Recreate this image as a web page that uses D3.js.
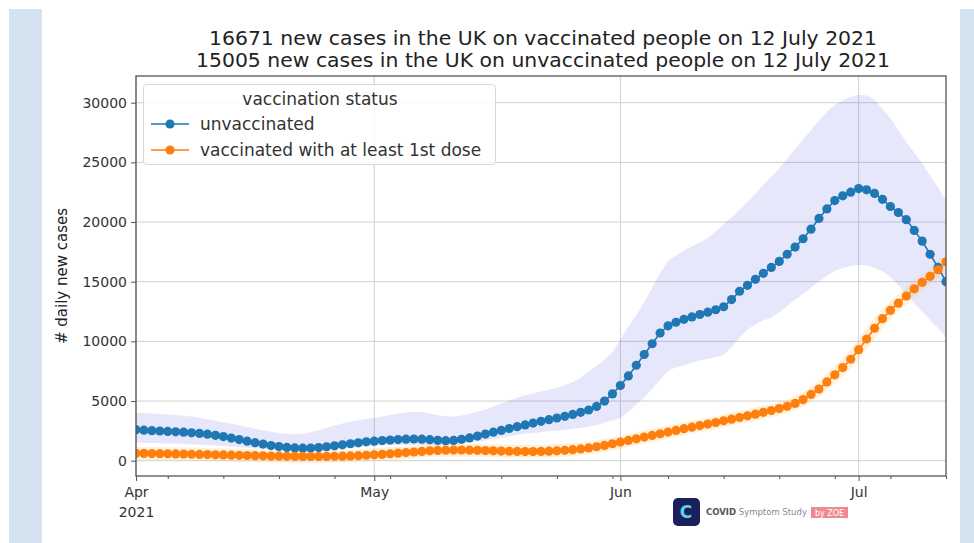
<!DOCTYPE html>
<html>
<head>
<meta charset="utf-8">
<script src="https://cdn.jsdelivr.net/npm/d3@7"></script>
<style>
  body { margin: 0; background: #fff; }
  svg { display: block; font-family: "DejaVu Sans", sans-serif; }
</style>
</head>
<body>
<div id="chart"></div>
<script>
// daily values, 1 April 2021 .. 12 July 2021
var startDay = new Date(2021, 3, 1);
var endDay = new Date(2021, 6, 12);

var unvaccinated = [
  2600, 2560, 2520, 2490, 2450, 2420, 2390, 2340, 2290, 2220,
  2130, 2020, 1900, 1770, 1640, 1510, 1390, 1270, 1180, 1110,
  1070, 1050, 1060, 1100, 1170, 1250, 1330, 1420, 1500, 1580,
  1640, 1690, 1730, 1770, 1800, 1820, 1800, 1760, 1710, 1680,
  1700, 1790, 1910, 2060, 2230, 2390, 2540, 2700, 2850, 3000,
  3150, 3300, 3440, 3580, 3720, 3880, 4050, 4250, 4550, 5000,
  5600, 6300, 7100, 8000, 8900, 9800, 10700, 11300, 11600, 11850,
  12050, 12250, 12450, 12650, 12900, 13500, 14200, 14700, 15200, 15700,
  16200, 16700, 17300, 17900, 18600, 19400, 20300, 21100, 21800, 22200,
  22500, 22800, 22700, 22400, 21900, 21300, 20800, 20200, 19300, 18400,
  17300, 16200, 15005
];

var vaccinated = [
  620, 610, 600, 590, 580, 570, 555, 540, 525, 510,
  495, 480, 465, 450, 435, 420, 405, 390, 380, 370,
  360, 355, 350, 350, 355, 365, 380, 400, 425, 455,
  490, 530, 580, 630, 680, 730, 780, 830, 860, 880,
  890, 890, 880, 870, 850, 830, 810, 790, 775, 765,
  765, 775, 795, 830, 870, 920, 990, 1070, 1170, 1280,
  1420, 1560, 1700, 1830, 1980, 2120, 2260, 2400, 2540, 2680,
  2810, 2940, 3070, 3200, 3340, 3480, 3620, 3760, 3900, 4050,
  4200, 4370, 4560, 4800, 5120, 5550, 6000, 6600, 7200, 7800,
  8500, 9300, 10200, 11100, 11900, 12600, 13200, 13800, 14400, 14950,
  15450, 16000, 16671
];

// confidence band for the unvaccinated series
var unvacUpper = [
  4000, 3980, 3950, 3910, 3870, 3820, 3770, 3700, 3600, 3480,
  3350, 3220, 3090, 2960, 2820, 2680, 2550, 2420, 2320, 2250,
  2220, 2260, 2380, 2550, 2750, 2950, 3120, 3270, 3400, 3500,
  3580, 3700, 3830, 3950, 4040, 4100, 4060, 3950, 3820, 3720,
  3700, 3780, 3920, 4100, 4300, 4550, 4780, 5020, 5250, 5480,
  5650, 5800, 5950, 6120, 6320, 6600, 6950, 7450, 7950, 8450,
  9100, 10200, 11200, 12200, 13300, 14500, 15700, 16700, 17200, 17600,
  17950, 18300, 18650, 19200, 19800, 20400, 21000, 21700, 22400, 23100,
  23800, 24500, 25300, 26100, 26900, 27700, 28500, 29200, 29800, 30200,
  30500, 30650, 30600, 30200, 29500, 28700, 27700, 26700, 25800, 24900,
  23900, 22900, 21800
];

var unvacLower = [
  1500, 1490, 1480, 1470, 1450, 1430, 1410, 1380, 1350, 1310,
  1270, 1230, 1180, 1130, 1080, 1030, 980, 940, 900, 870,
  860, 850, 860, 890, 930, 980, 1040, 1100, 1160, 1220,
  1260, 1290, 1310, 1320, 1320, 1310, 1290, 1270, 1260, 1270,
  1320, 1400, 1500, 1600, 1700, 1800, 1920, 2040, 2150, 2250,
  2320, 2390, 2460, 2530, 2600, 2680, 2770, 2870, 3000, 3180,
  3380, 3600, 4100, 4700, 5300, 6000, 6800, 7500, 7800, 8000,
  8200, 8400, 8550, 8700, 8900, 9500, 10300, 11000, 11400, 11750,
  12000, 12450, 12950, 13500, 14000, 14500, 15000, 15500, 15900, 16150,
  16300, 16400, 16350, 16150, 15850, 15400, 14700, 13900, 13200, 12500,
  11800, 11100, 10400
];

var yTicks = [0, 5000, 10000, 15000, 20000, 25000, 30000];
var monthTicks = [new Date(2021, 3, 1), new Date(2021, 4, 1), new Date(2021, 5, 1), new Date(2021, 6, 1)];
var monthLabels = ["Apr", "May", "Jun", "Jul"];

var titleLines = [
  "16671 new cases in the UK on vaccinated people on 12 July 2021",
  "15005 new cases in the UK on unvaccinated people on 12 July 2021"
];
var seriesNames = ["unvaccinated", "vaccinated with at least 1st dose"];
var seriesColors = ["#1f77b4", "#ff7f0e"];

var width = 974, height = 543;
var plotLeft = 136, plotRight = 946, plotTop = 76, plotBottom = 476;
var dotR = 4.6;

var days = d3.timeDay.range(startDay, d3.timeDay.offset(endDay, 1));

var svg = d3.select("#chart").append("svg")
  .attr("width", width)
  .attr("height", height);

// page frame (light blue strips of the screenshot)
svg.append("rect").attr("x", 9).attr("y", 9).attr("width", 33).attr("height", height - 9).attr("fill", "#d5e2ef");
svg.append("rect").attr("x", 960).attr("y", 9).attr("width", 14).attr("height", height - 9).attr("fill", "#d5e2ef");

var x = d3.scaleTime()
  .domain([startDay, endDay])
  .range([plotLeft, plotRight]);

var y = d3.scaleLinear()
  .domain([-1282, 32237])
  .range([plotBottom, plotTop]);

svg.append("clipPath").attr("id", "plotclip")
  .append("rect")
    .attr("x", plotLeft).attr("y", plotTop)
    .attr("width", plotRight - plotLeft).attr("height", plotBottom - plotTop);

// grid
var grid = svg.append("g").attr("stroke", "#d0d0d0").attr("stroke-width", 1);
grid.selectAll("line.h")
  .data(yTicks)
  .enter().append("line")
    .attr("class", "h")
    .attr("x1", plotLeft).attr("x2", plotRight)
    .attr("y1", function(d) { return y(d); })
    .attr("y2", function(d) { return y(d); });
grid.selectAll("line.v")
  .data(monthTicks)
  .enter().append("line")
    .attr("class", "v")
    .attr("y1", plotTop).attr("y2", plotBottom)
    .attr("x1", function(d) { return x(d); })
    .attr("x2", function(d) { return x(d); });

var plot = svg.append("g").attr("clip-path", "url(#plotclip)");

var band = d3.area()
  .x(function(d, i) { return x(days[i]); })
  .y0(function(d, i) { return y(unvacLower[i]); })
  .y1(function(d, i) { return y(unvacUpper[i]); })
  .curve(d3.curveMonotoneX);

plot.append("path")
  .datum(unvacUpper)
  .attr("d", band)
  .attr("fill", "#3a3ae0")
  .attr("fill-opacity", 0.12);

var line = d3.line()
  .x(function(d, i) { return x(days[i]); })
  .y(function(d) { return y(d); });

// faint halo around the vaccinated series
plot.append("path")
  .datum(vaccinated)
  .attr("d", line)
  .attr("fill", "none")
  .attr("stroke", "#ffc060")
  .attr("stroke-opacity", 0.22)
  .attr("stroke-width", 13)
  .attr("stroke-linejoin", "round");

[unvaccinated, vaccinated].forEach(function(series, k) {
  plot.append("path")
    .datum(series)
    .attr("d", line)
    .attr("fill", "none")
    .attr("stroke", seriesColors[k])
    .attr("stroke-width", 1.6);

  plot.append("g")
    .attr("fill", seriesColors[k])
    .selectAll("circle")
    .data(series)
    .enter().append("circle")
      .attr("cx", function(d, i) { return x(days[i]); })
      .attr("cy", function(d) { return y(d); })
      .attr("r", dotR);
});

// frame
svg.append("rect")
  .attr("x", plotLeft).attr("y", plotTop)
  .attr("width", plotRight - plotLeft).attr("height", plotBottom - plotTop)
  .attr("fill", "none")
  .attr("stroke", "#555")
  .attr("stroke-width", 1.3);

// y axis
var yAxis = d3.axisLeft(y)
  .tickValues(yTicks)
  .tickSize(5)
  .tickPadding(4)
  .tickFormat(d3.format("d"));

var gy = svg.append("g")
  .attr("transform", "translate(" + plotLeft + ",0)")
  .call(yAxis);
gy.select(".domain").remove();
gy.selectAll("line").attr("stroke", "#555");
gy.selectAll("text")
  .attr("font-size", 14)
  .attr("font-family", "DejaVu Sans")
  .attr("fill", "#333");

// x axis: weekly minor ticks on Mondays, month major ticks
var minor = d3.timeMonday.range(startDay, d3.timeDay.offset(endDay, 1));
var gxm = svg.append("g")
  .attr("transform", "translate(0," + plotBottom + ")")
  .call(d3.axisBottom(x).tickValues(minor).tickSize(3).tickFormat(""));
gxm.select(".domain").remove();
gxm.selectAll("line").attr("stroke", "#555");

var gx = svg.append("g")
  .attr("transform", "translate(0," + plotBottom + ")")
  .call(d3.axisBottom(x)
    .tickValues(monthTicks)
    .tickSize(5)
    .tickPadding(6)
    .tickFormat(function(d, i) { return monthLabels[i]; }));
gx.select(".domain").remove();
gx.selectAll("line").attr("stroke", "#555");
gx.selectAll("text")
  .attr("font-size", 14)
  .attr("font-family", "DejaVu Sans")
  .attr("fill", "#333");
gx.select(".tick text")
  .append("tspan")
    .attr("x", 0)
    .attr("dy", "1.4em")
    .text("2021");

// y label
svg.append("text")
  .attr("transform", "translate(67," + ((plotTop + plotBottom) / 2) + ") rotate(-90)")
  .attr("text-anchor", "middle")
  .attr("font-size", 15)
  .attr("fill", "#222")
  .text("# daily new cases");

// title
svg.selectAll("text.title")
  .data(titleLines)
  .enter().append("text")
    .attr("class", "title")
    .attr("x", (plotLeft + plotRight) / 2 + 2)
    .attr("y", function(d, i) { return 45 + i * 22; })
    .attr("text-anchor", "middle")
    .attr("font-size", 19)
    .attr("textLength", function(d, i) { return i ? 694 : 668; })
    .attr("lengthAdjust", "spacingAndGlyphs")
    .attr("fill", "#222")
    .text(function(d) { return d; });

// legend
var legend = svg.append("g");
legend.append("rect")
  .attr("x", 143.5).attr("y", 84.5)
  .attr("width", 352).attr("height", 80)
  .attr("rx", 3)
  .attr("fill", "#fff")
  .attr("fill-opacity", 0.85)
  .attr("stroke", "#d8d8d8");
legend.append("text")
  .attr("x", 320).attr("y", 105)
  .attr("text-anchor", "middle")
  .attr("font-size", 17)
  .attr("fill", "#333")
  .text("vaccination status");

var entry = legend.selectAll("g.entry")
  .data(seriesNames)
  .enter().append("g")
    .attr("class", "entry")
    .attr("transform", function(d, i) { return "translate(0," + (124 + i * 26) + ")"; });
entry.append("line")
  .attr("x1", 151).attr("x2", 189)
  .attr("stroke", function(d, i) { return seriesColors[i]; })
  .attr("stroke-width", 1.6);
entry.append("circle")
  .attr("cx", 170).attr("r", dotR)
  .attr("fill", function(d, i) { return seriesColors[i]; });
entry.append("text")
  .attr("x", 200).attr("y", 6)
  .attr("font-size", 17)
  .attr("fill", "#333")
  .text(function(d) { return d; });

// COVID Symptom Study badge
var logo = svg.append("g").attr("transform", "translate(673,498)");
logo.append("rect")
  .attr("width", 27).attr("height", 28).attr("rx", 5)
  .attr("fill", "#1b1f5e");
logo.append("text")
  .attr("x", 13).attr("y", 20)
  .attr("text-anchor", "middle")
  .attr("font-size", 17)
  .attr("font-weight", "bold")
  .attr("fill", "#5fd3e8")
  .text("C");
var logoText = logo.append("text")
  .attr("x", 33).attr("y", 17)
  .attr("font-size", 8.5)
  .attr("fill", "#888");
logoText.append("tspan").attr("font-weight", "bold").attr("fill", "#555").text("COVID");
logoText.append("tspan").text(" Symptom Study");
logo.append("rect")
  .attr("x", 138).attr("y", 9)
  .attr("width", 37).attr("height", 11)
  .attr("fill", "#f08a92");
logo.append("text")
  .attr("x", 156.5).attr("y", 18)
  .attr("text-anchor", "middle")
  .attr("font-size", 8)
  .attr("fill", "#fff")
  .text("by ZOE");
</script>
</body>
</html>
